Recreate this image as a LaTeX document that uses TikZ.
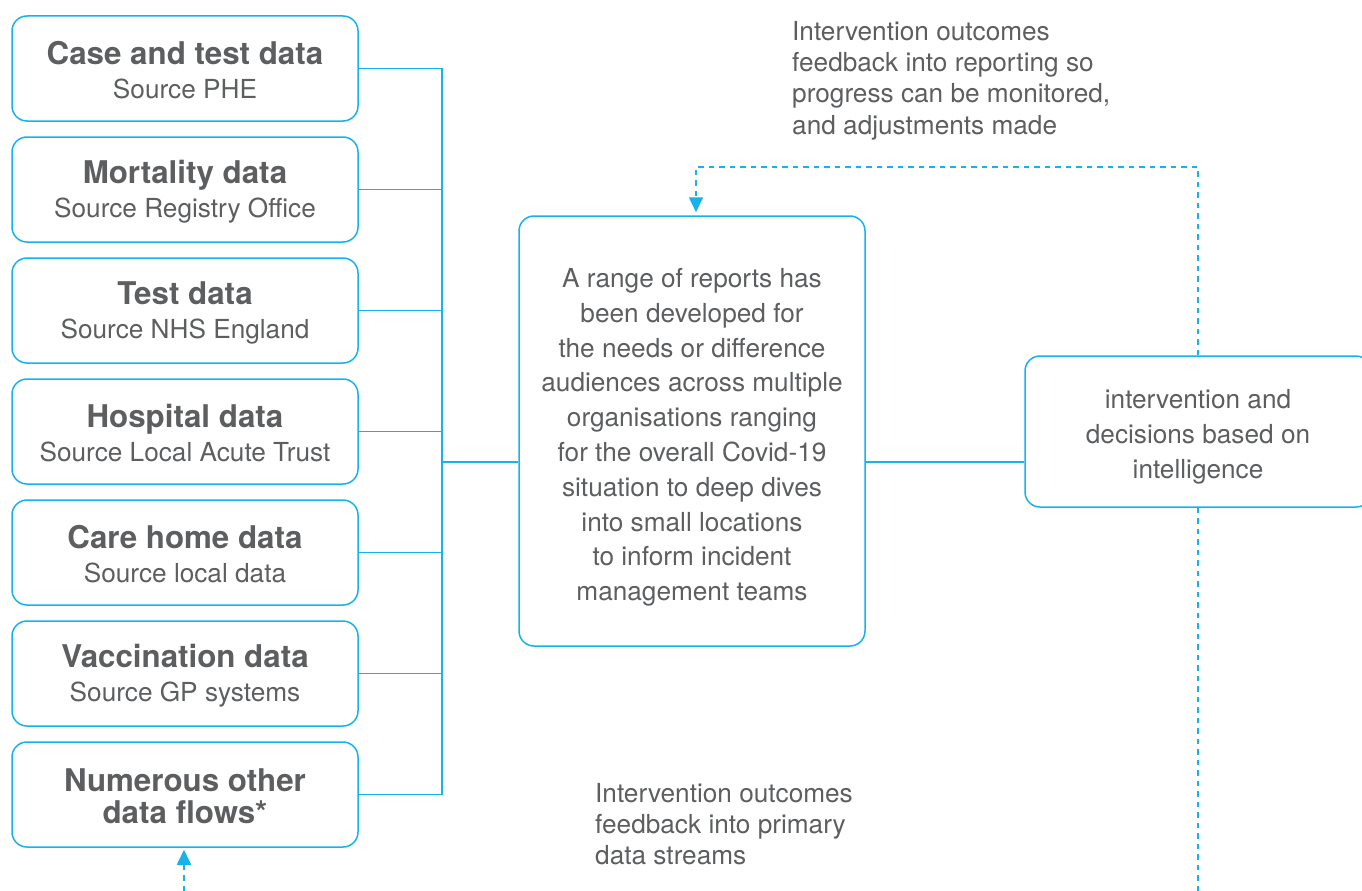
\documentclass[tikz,border=0pt]{standalone}
\usepackage{fontspec}
\setmainfont{TeX Gyre Heros}
\usetikzlibrary{positioning, arrows.meta}

\definecolor{flowblue}{RGB}{22,178,234}
\definecolor{inkgrey}{RGB}{92,94,96}

\tikzset{
  box/.style={draw=flowblue, line width=1.5pt, rounded corners=15pt,
    minimum width=346pt, align=center, text=inkgrey, inner sep=0pt,
    font=\fontsize{26.2}{31}\selectfont},
  srcbox/.style={box, minimum height=105pt},
  link/.style={draw=flowblue, line width=1.7pt},
  feedback/.style={draw=flowblue, line width=1.7pt, dash pattern=on 5.5pt off 5pt},
  note/.style={anchor=north west, align=left, inner sep=0pt, text=inkgrey,
    font=\fontsize{26.2}{31.3}\selectfont}
}
\newcommand{\head}[1]{{\bfseries\fontsize{31.3}{36}\selectfont #1}}
% taller first line, pushes the text block down inside its box
\newcommand{\lift}[1]{\rule{0pt}{#1}}
\newcommand{\srctext}[2]{\head{\lift{27pt}#1}\\[3pt]#2}

\begin{document}
\begin{tikzpicture}[x=1pt, y=-1pt]
  \useasboundingbox (0,0) rectangle (1362,891);

  % data sources
  \node[srcbox] (src1) at (185,68.5) {\srctext{Case and test data}{Source PHE}};
  \node[srcbox] (src2) at (185,189.5) {\srctext{Mortality data}{Source Registry Office}};
  \node[srcbox] (src3) at (185,310.5) {\srctext{Test data}{Source NHS England}};
  \node[srcbox] (src4) at (185,431.5) {\srctext{Hospital data}{Source Local Acute Trust}};
  \node[srcbox] (src5) at (185,552.5) {\srctext{Care home data}{Source local data}};
  \node[srcbox] (src6) at (185,673.5) {\srctext{Vaccination data}{Source GP systems}};
  \node[srcbox] (src7) at (185,794.5) {\head{\lift{26pt}Numerous other}\\[1pt]\head{data flows*}};

  % reports and decisions
  \node[box, minimum height=430pt, font=\fontsize{26.2}{34.8}\selectfont] (reports) at (692,431)
    {\lift{32pt}A range of reports has\\been developed for\\the needs or difference\\audiences across multiple\\organisations ranging\\for the overall Covid-19\\situation to deep dives\\into small locations\\to inform incident\\management teams};
  \node[box, minimum height=151pt, font=\fontsize{26.2}{35}\selectfont] (action) at (1198,431.5)
    {\lift{29pt}intervention and\\decisions based on\\intelligence};

  % bus from the sources
  \coordinate (bus) at (442,462);
  \foreach \i in {1,...,7}
    \draw[link] (src\i.east) -- (src\i.east -| bus);
  \draw[link] (bus |- src1.east) -- (bus |- src7.east);
  \draw[link] (bus) -- (bus -| reports.west);
  \draw[link] (bus -| reports.east) -- (bus -| action.west);

  % feedback loops
  \coordinate (loop) at (696,167);
  \draw[feedback, -{Triangle[length=15pt,width=14pt]}, shorten >=3pt]
    (action.north) |- (loop) -- (loop |- reports.north);
  \coordinate (down) at (1198,891);
  \draw[feedback] (action.south) -- (down);
  \coordinate (up) at (184,891);
  \draw[feedback, -{Triangle[length=15pt,width=14pt]}, shorten >=2pt]
    (up) -- (up |- src7.south);

  \node[note] (topnote) at (792,21) {Intervention outcomes\\feedback into reporting so\\progress can be monitored,\\and adjustments made};
  \node[note] (lownote) at (595,783) {Intervention outcomes\\feedback into primary\\data streams};
\end{tikzpicture}
\end{document}
